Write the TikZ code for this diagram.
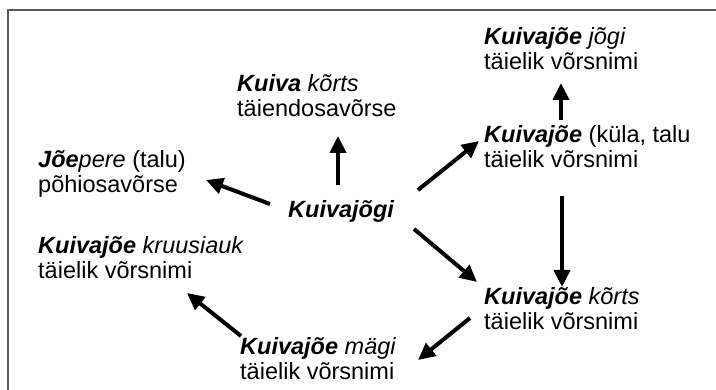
\documentclass[tikz,border=0pt]{standalone}
\usepackage{fontspec}
\setmainfont{Liberation Sans}
\usetikzlibrary{arrows.meta,calc}
\begin{document}
\begin{tikzpicture}[x=1pt,y=-1pt,
  lbl/.style={anchor=base west, inner sep=0pt, align=left,
    font=\fontsize{23.5}{25}\selectfont},
  arr/.style={line width=4pt, -{Triangle[length=17pt,width=16pt]}},
  frame/.style={draw=black!65, line width=2pt},
  ]
\useasboundingbox (0,0) rectangle (716,390);
% open frame: top and left edges
\draw[frame] (8,391) -- (8,10) -- (717,10);

% names (positioned at the baseline of their last line)
\node[lbl] (jogi) at (484,70) {\textbf{\textit{Kuivajõe}} \textit{jõgi}\\täielik võrsnimi};
\node[lbl] (kuivakorts) at (237,117) {\textbf{\textit{Kuiva}} \textit{kõrts}\\täiendosavõrse};
\node[lbl] (kula) at (484,168) {\textbf{\textit{Kuivajõe}} (küla, talu\\täielik võrsnimi};
\node[lbl] (joepere) at (38,193) {\textbf{\textit{Jõe}}\textit{pere} (talu)\\põhiosavõrse};
\node[lbl] (center) at (288,218) {\textbf{\textit{Kuivajõgi}}};
\node[lbl] (kruusiauk) at (38,279) {\textbf{\textit{Kuivajõe}} \textit{kruusiauk}\\täielik võrsnimi};
\node[lbl] (korts) at (484,330) {\textbf{\textit{Kuivajõe}} \textit{kõrts}\\täielik võrsnimi};
\node[lbl] (magi) at (240,380) {\textbf{\textit{Kuivajõe}} \textit{mägi}\\täielik võrsnimi};

% derivation arrows
\draw[arr] ($(center.base west)+(50,-33)$) -- ($(kuivakorts.base west)+(101,19)$);
\draw[arr] ($(center.base west)+(-18,-14)$) -- ($(joepere.base west)+(168,-13)$);
\draw[arr] ($(center.base west)+(130,-28)$) -- ($(kula.base west)+(-5,-27)$);
\draw[arr] ($(center.base west)+(126,11)$) -- ($(korts.base west)+(-7,-48)$);
\draw[arr] ($(kula.base west)+(78,28)$) -- ($(korts.base west)+(78,-43)$);
\draw[arr] ($(kula.base west)+(77,-48)$) -- ($(jogi.base west)+(77,13)$);
\draw[arr] ($(korts.base west)+(-14,-12)$) -- ($(magi.base west)+(178,-20)$);
\draw[arr] ($(magi.base west)+(1,-44)$) -- ($(kruusiauk.base west)+(149,14)$);
\end{tikzpicture}
\end{document}
